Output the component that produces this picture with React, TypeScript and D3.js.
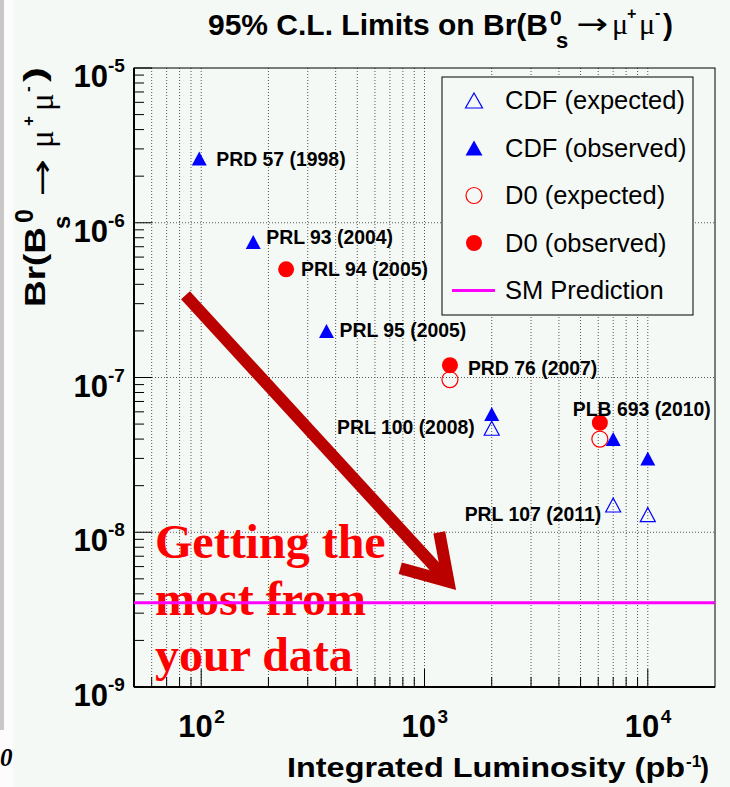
import React from 'react';
import * as d3 from 'd3';

const W = 730;
const H = 787;

// ---- data ----
const cdfObsLumi = [98, 171, 364, 2000, 7000, 10000];
const cdfObsLimit = [2.6e-6, 7.5e-7, 2.0e-7, 5.8e-8, 4.0e-8, 3.0e-8];
const cdfExpLumi = [2000, 7000, 10000];
const cdfExpLimit = [4.7e-8, 1.5e-8, 1.3e-8];
const d0ObsLumi = [240, 1300, 6100];
const d0ObsLimit = [5.0e-7, 1.2e-7, 5.1e-8];
const d0ExpLumi = [1300, 6100];
const d0ExpLimit = [9.7e-8, 4.0e-8];
const smPrediction = 3.5e-9;

const pubLabels = ['PRD 57 (1998)', 'PRL 93 (2004)', 'PRL 94 (2005)', 'PRL 95 (2005)', 'PRD 76 (2007)', 'PRL 100 (2008)', 'PLB 693 (2010)', 'PRL 107 (2011)'];
const pubLumi = [98, 171, 240, 364, 1300, 2000, 6100, 7000];
const pubLimit = [2.6e-6, 7.5e-7, 5.0e-7, 2.0e-7, 1.2e-7, 5.8e-8, 5.1e-8, 1.5e-8];

const xDomain = [50, 20000];
const yDomain = [1e-9, 1e-5];
const xTickExps = [2, 3, 4];
const yTickExps = [-5, -6, -7, -8, -9];
const legendLabels = ['CDF (expected)', 'CDF (observed)', 'D0 (expected)', 'D0 (observed)', 'SM Prediction'];
const annotationLines = ['Getting the', 'most from', 'your data'];
const arrowFrom = [85, 3.4e-7];
const arrowTo = [1280, 4.8e-9];

// ---- layout (pixels) ----
const pubAnchor = ['start', 'start', 'start', 'start', 'start', 'end', 'start', 'end'];
const pubDx = [17, 13, 15, 13, 18, -17, -27, -12];
const pubDy = [7, 2, 7, 6, 10, 20, -7, 16];

const BG = '#f5f9f6';
const BLUE = '#0000ff';
const RED = '#ff0000';
const MAGENTA = '#ff00ff';
const SANS = '"Liberation Sans", Arial, Helvetica, sans-serif';
const SERIF = '"Liberation Serif", "Times New Roman", serif';
const ARROWFONT = '"DejaVu Sans", sans-serif';

const tri = (cx: number, cy: number, w: number, h: number) =>
  `M${cx},${cy - h / 2}L${cx + w / 2},${cy + h / 2}L${cx - w / 2},${cy + h / 2}Z`;

export default function App() {
  const x = d3.scaleLog().domain(xDomain).range([134, 715]);
  const y = d3.scaleLog().domain(yDomain).range([687, 68]);
  const [x0, x1] = x.range();
  const [yb, yt] = y.range();

  const xMinor: number[] = [];
  for (let e = 1; e <= 4; e++) for (let m = 1; m <= 9; m++) {
    const v = m * Math.pow(10, e);
    if (v > xDomain[0] && v < xDomain[1]) xMinor.push(v);
  }
  const yMinor: number[] = [];
  for (let e = -9; e <= -6; e++) for (let m = 2; m <= 9; m++) yMinor.push(m * Math.pow(10, e));

  // arrow geometry
  const ax0 = x(arrowFrom[0]), ay0 = y(arrowFrom[1]);
  const ax1 = x(arrowTo[0]), ay1 = y(arrowTo[1]);
  const back = Math.atan2(ay0 - ay1, ax0 - ax1);
  const wa = (32 * Math.PI) / 180;
  const wl = 50;
  const w1 = [ax1 + wl * Math.cos(back - wa), ay1 + wl * Math.sin(back - wa)];
  const w2 = [ax1 + wl * Math.cos(back + wa), ay1 + wl * Math.sin(back + wa)];

  const legendRowY = (i: number) => 100.5 + i * 47.5;

  return (
    <svg width={W} height={H} style={{ position: 'absolute', left: 0, top: 0, display: 'block' }}>
      <rect x={0} y={0} width={W} height={H} fill={BG} />
      <rect x={0} y={0} width={13} height={H} fill="#fcfcfc" />
      <rect x={0} y={0} width={4} height={730} fill="#c8c8c8" />
      <text x={0} y={766} fontFamily={SERIF} fontWeight="bold" fontStyle="italic" fontSize={25} fill="#000">0</text>

      {/* title */}
      <g fontFamily={SANS} fontWeight="bold" fill="#000">
        <text x={208} y={35} fontSize={30} textLength={340} lengthAdjust="spacingAndGlyphs">95% C.L. Limits on Br(B</text>
        <text x={550} y={25} fontSize={21}>0</text>
        <text x={556} y={48} fontSize={22}>s</text>
        <text x={576} y={34} fontSize={30} fontFamily={ARROWFONT} fontWeight="normal" textLength={32} lengthAdjust="spacingAndGlyphs">→</text>
        <text x={612} y={34} fontSize={30} fontFamily={SERIF} fontWeight="normal">μ</text>
        <text x={627} y={19} fontSize={16}>+</text>
        <text x={639} y={34} fontSize={30} fontFamily={SERIF} fontWeight="normal">μ</text>
        <text x={655} y={18} fontSize={16}>-</text>
        <text x={663} y={35} fontSize={30}>)</text>
      </g>

      {/* grid */}
      <g stroke="#555" strokeWidth={1} strokeDasharray="1,2">
        {xMinor.map((v) => (
          <line key={'gx' + v} x1={x(v)} x2={x(v)} y1={yt} y2={yb} />
        ))}
        {yTickExps.slice(1, -1).map((e) => (
          <line key={'gy' + e} x1={x0} x2={x1} y1={y(Math.pow(10, e))} y2={y(Math.pow(10, e))} />
        ))}
      </g>

      {/* frame */}
      <rect x={x0} y={yt} width={x1 - x0} height={yb - yt} fill="none" stroke="#000" strokeWidth={1} />
      <line x1={x0} x2={x0} y1={yt} y2={yb} stroke="#000" strokeWidth={2} />
      <line x1={x0} x2={x1} y1={yb} y2={yb} stroke="#000" strokeWidth={2} />

      {/* ticks */}
      <g stroke="#000" strokeWidth={1}>
        {yTickExps.map((e) => (
          <line key={'ty' + e} x1={x0} x2={x0 + 18} y1={y(Math.pow(10, e))} y2={y(Math.pow(10, e))} />
        ))}
        {yMinor.map((v) => (
          <line key={'tym' + v} x1={x0} x2={x0 + 10} y1={y(v)} y2={y(v)} />
        ))}
        {xMinor.map((v) => {
          const major = Math.abs(Math.log10(v) - Math.round(Math.log10(v))) < 1e-9;
          return <line key={'tx' + v} x1={x(v)} x2={x(v)} y1={yb} y2={yb - (major ? 18 : 10)} />;
        })}
      </g>

      {/* tick labels */}
      <g fontFamily={SANS} fontWeight="bold" fill="#000">
        {yTickExps.map((e) => {
          const py = y(Math.pow(10, e));
          return (
            <g key={'yl' + e}>
              <text x={108} y={py + 19} fontSize={31} textAnchor="end">10</text>
              <text x={108} y={py + 4} fontSize={19}>{String(e)}</text>
            </g>
          );
        })}
        {xTickExps.map((e) => {
          const px = x(Math.pow(10, e));
          return (
            <g key={'xl' + e}>
              <text x={px - 23} y={737} fontSize={31}>10</text>
              <text x={px + 13} y={723} fontSize={19}>{String(e)}</text>
            </g>
          );
        })}
      </g>

      {/* axis titles */}
      <g fontFamily={SANS} fontWeight="bold" fill="#000">
        <text x={287} y={777} fontSize={27} textLength={398} lengthAdjust="spacingAndGlyphs">Integrated Luminosity (pb</text>
        <text x={686} y={767} fontSize={17}>-1</text>
        <text x={700} y={777} fontSize={27}>)</text>
      </g>
      <g transform="translate(45,307) rotate(-90)" fontFamily={SANS} fontWeight="bold" fill="#000">
        <text x={0} y={0} fontSize={29} textLength={80} lengthAdjust="spacingAndGlyphs">Br(B</text>
        <text x={84} y={-12} fontSize={25}>0</text>
        <text x={78} y={25} fontSize={24}>s</text>
        <text x={110} y={7} fontSize={30} fontFamily={ARROWFONT} fontWeight="normal" textLength={38} lengthAdjust="spacingAndGlyphs">→</text>
        <text x={159} y={8} fontSize={33} fontFamily={SERIF} fontWeight="normal">μ</text>
        <text x={181} y={-11} fontSize={17}>+</text>
        <text x={196} y={8} fontSize={33} fontFamily={SERIF} fontWeight="normal">μ</text>
        <text x={215} y={-12} fontSize={17}>-</text>
        <text x={225} y={0} fontSize={29} textLength={15} lengthAdjust="spacingAndGlyphs">)</text>
      </g>

      {/* annotation text */}
      <g fontFamily={SERIF} fontWeight="bold" fontSize={48} fill={RED}>
        {annotationLines.map((t, i) => (
          <text key={t} x={155} y={558 + i * 56.5}>{t}</text>
        ))}
      </g>

      {/* SM prediction */}
      <line x1={x0} x2={x1} y1={y(smPrediction)} y2={y(smPrediction)} stroke={MAGENTA} strokeWidth={3} />

      {/* data markers */}
      {d0ExpLumi.map((v, i) => (
        <circle key={'de' + i} cx={x(v)} cy={y(d0ExpLimit[i])} r={8} fill="none" stroke={RED} strokeWidth={1.2} />
      ))}
      {d0ObsLumi.map((v, i) => (
        <circle key={'do' + i} cx={x(v)} cy={y(d0ObsLimit[i])} r={8} fill={RED} />
      ))}
      {cdfExpLumi.map((v, i) => (
        <path key={'ce' + i} d={tri(x(v), y(cdfExpLimit[i]), 15, 14)} fill="none" stroke={BLUE} strokeWidth={1.2} />
      ))}
      {cdfObsLumi.map((v, i) => (
        <path key={'co' + i} d={tri(x(v), y(cdfObsLimit[i]), 15, 14)} fill={BLUE} />
      ))}

      {/* publication labels */}
      <g fontFamily={SANS} fontWeight="bold" fontSize={19.4} fill="#000">
        {pubLabels.map((t, i) => (
          <text key={t} x={x(pubLumi[i]) + pubDx[i]} y={y(pubLimit[i]) + pubDy[i]} textAnchor={pubAnchor[i] as any}>{t}</text>
        ))}
      </g>

      {/* legend */}
      <rect x={442} y={77} width={251} height={238} fill={BG} stroke="#000" strokeWidth={1} />
      <path d={tri(474, legendRowY(0), 17, 15)} fill="none" stroke={BLUE} strokeWidth={1.2} />
      <path d={tri(474, legendRowY(1), 17, 15)} fill={BLUE} />
      <circle cx={474} cy={legendRowY(2)} r={8} fill="none" stroke={RED} strokeWidth={1.2} />
      <circle cx={474} cy={legendRowY(3)} r={8} fill={RED} />
      <line x1={452} x2={495} y1={legendRowY(4)} y2={legendRowY(4)} stroke={MAGENTA} strokeWidth={3} />
      <g fontFamily={SANS} fontSize={25.5} fill="#000">
        {legendLabels.map((t, i) => (
          <text key={t} x={505} y={legendRowY(i) + 8.5}>{t}</text>
        ))}
      </g>

      {/* arrow */}
      <g stroke="#bb0000" strokeWidth={12} fill="none" strokeLinejoin="miter" strokeLinecap="butt">
        <line x1={ax0} y1={ay0} x2={ax1} y2={ay1} />
        <polyline points={`${w1[0]},${w1[1]} ${ax1},${ay1} ${w2[0]},${w2[1]}`} />
      </g>
    </svg>
  );
}
